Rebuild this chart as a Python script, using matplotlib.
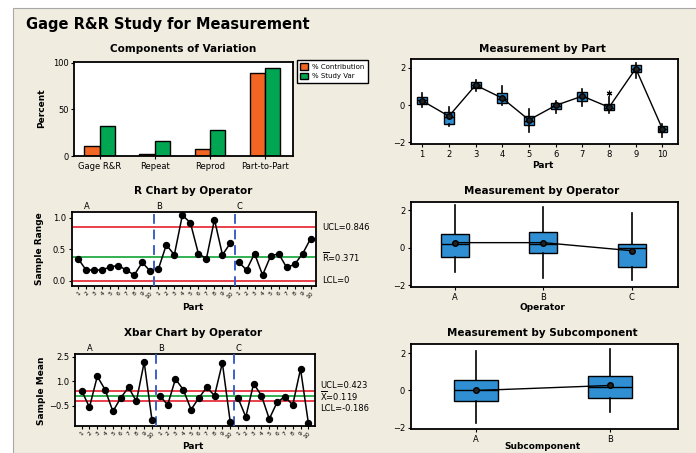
import numpy as np
import matplotlib
matplotlib.use('Agg')
import matplotlib.pyplot as plt
import matplotlib.transforms as mtransforms
from matplotlib.patches import Rectangle

# --- data ---
components = ['Gage R&R', 'Repeat', 'Reprod', 'Part-to-Part']
pct_contribution = [10.3, 2.6, 7.7, 89.7]
pct_study_var = [32.1, 16.1, 27.7, 94.7]

parts = np.arange(1, 11)
part_mean = [0.23, -0.60, 1.07, 0.37, -0.80, -0.02, 0.48, -0.12, 1.96, -1.29]
part_med = [0.25, -0.65, 1.05, 0.35, -0.85, -0.03, 0.45, -0.15, 1.95, -1.30]
part_q1 = [0.05, -1.02, 0.90, 0.12, -1.07, -0.20, 0.23, -0.29, 1.79, -1.45]
part_q3 = [0.45, -0.36, 1.25, 0.62, -0.59, 0.12, 0.68, 0.05, 2.14, -1.12]
part_lo = [-0.12, -1.10, 0.77, -0.02, -1.43, -0.45, -0.04, -0.45, 1.46, -1.73]
part_hi = [0.62, -0.12, 1.37, 1.02, -0.23, 0.23, 0.84, 0.45, 2.23, -1.02]
part_outliers = [[], [], [], [], [], [], [], [0.66], [], []]

operators = ['A', 'B', 'C']
op_mean = [0.28, 0.28, -0.15]
op_med = [0.19, 0.19, -0.03]
op_q1 = [-0.51, -0.29, -1.04]
op_q3 = [0.72, 0.83, 0.19]
op_lo = [-1.28, -1.60, -1.72]
op_hi = [2.28, 2.20, 1.88]

subcomponents = ['A', 'B']
sub_mean = [0.0, 0.27]
sub_med = [0.0, 0.20]
sub_q1 = [-0.57, -0.39]
sub_q3 = [0.59, 0.77]
sub_lo = [-1.73, -1.14]
sub_hi = [2.12, 2.25]

range_A = [0.35, 0.17, 0.17, 0.17, 0.22, 0.24, 0.17, 0.09, 0.29, 0.15]
range_B = [0.18, 0.57, 0.41, 1.04, 0.92, 0.43, 0.35, 0.97, 0.41, 0.60]
range_C = [0.30, 0.17, 0.43, 0.09, 0.39, 0.43, 0.21, 0.26, 0.43, 0.67]
r_ucl, r_bar, r_lcl = 0.846, 0.371, 0.0

mean_A = [0.43, -0.58, 1.30, 0.49, -0.83, -0.01, 0.63, -0.22, 2.16, -1.37]
mean_B = [0.13, -0.44, 1.14, 0.49, -0.72, -0.01, 0.63, 0.13, 2.12, -1.45]
mean_C = [-0.01, -1.17, 0.86, 0.13, -1.29, -0.28, 0.07, -0.44, 1.75, -1.54]
x_ucl, x_bar, x_lcl = 0.423, 0.119, -0.186

# --- layout helpers (pixel based) ---
W, H = 696, 453
BEIGE = '#f0ece0'
ORANGE = '#f26522'
GREEN = '#00a651'
BLUE = '#2f8fd2'
RED = '#e8323c'
CGREEN = '#22aa44'
DASH = '#3d5fc8'

fig = plt.figure(figsize=(W / 100, H / 100), dpi=100, facecolor='white')
fig.patches.append(Rectangle((13 / W, 0), 1, 1 - 8 / H, transform=fig.transFigure,
                             facecolor=BEIGE, edgecolor='#a8a8a8', lw=0.8, zorder=-1))


def px_axes(l, t, r, b):
    ax = fig.add_axes([l / W, 1 - b / H, (r - l) / W, (b - t) / H])
    ax.set_facecolor('white')
    for s in ax.spines.values():
        s.set_linewidth(1.3)
    ax.tick_params(labelsize=6, length=2.5, width=0.8, pad=1.5)
    return ax


def ftext(x, y, s, **kw):
    kw.setdefault('ha', 'center')
    kw.setdefault('va', 'center')
    fig.text(x / W, 1 - y / H, s, **kw)


def box_chart(ax, pos, q1, med, q3, lo, hi, mean, width, fliers=None):
    if fliers is None:
        fliers = [[] for _ in pos]
    stats = [dict(q1=a, med=m, q3=b, whislo=l, whishi=h, fliers=f)
             for a, m, b, l, h, f in zip(q1, med, q3, lo, hi, fliers)]
    ax.bxp(stats, positions=pos, widths=width, patch_artist=True,
           showcaps=False, showfliers=True,
           boxprops=dict(facecolor=BLUE, edgecolor='black', linewidth=1),
           medianprops=dict(color='black', linewidth=1),
           whiskerprops=dict(color='black', linewidth=1.2),
           flierprops=dict(marker=(6, 2, 0), markeredgecolor='black',
                           markersize=4, markeredgewidth=0.8))
    ax.plot(pos, mean, '-', color='black', lw=1, marker='o', ms=4,
            mfc='#222222', mec='black', zorder=5)


# --- title ---
ftext(26, 25, 'Gage R&R Study for Measurement', ha='left', fontsize=10.5,
      fontweight='bold')

# --- components of variation ---
ax = px_axes(74, 62, 293, 156)
x = np.arange(len(components))
w = 0.28
ax.bar(x - w / 2, pct_contribution, w, color=ORANGE, edgecolor='black', lw=1,
       label='% Contribution')
ax.bar(x + w / 2, pct_study_var, w, color=GREEN, edgecolor='black', lw=1,
       label='% Study Var')
ax.set_xticks(x, components)
ax.set_xlim(-0.47, 3.51)
ax.set_ylim(0, 101)
ax.set_yticks([0, 50, 100])
ax.legend(loc='upper left', bbox_to_anchor=(297 / W, 1 - 60 / H),
          bbox_transform=fig.transFigure, fontsize=5, fancybox=False,
          edgecolor='black', framealpha=1, handlelength=1.1, handleheight=1.1,
          borderpad=0.5, labelspacing=0.35, handletextpad=0.6, borderaxespad=0)
ftext(183.5, 49.3, 'Components of Variation', fontsize=7.5, fontweight='bold')
ftext(41.7, 108, 'Percent', rotation=90, fontsize=6.5, fontweight='bold')

# --- measurement by part ---
ax = px_axes(410.7, 59, 677.7, 144)
box_chart(ax, parts, part_q1, part_med, part_q3, part_lo, part_hi, part_mean,
          0.37, part_outliers)
ax.set_xticks(parts, [str(p) for p in parts])
ax.set_xlim(0.57, 10.57)
ax.set_ylim(-2.09, 2.47)
ax.set_yticks([-2, 0, 2])
ftext(542.7, 49.3, 'Measurement by Part', fontsize=7.5, fontweight='bold')
ftext(542.7, 165.7, 'Part', fontsize=6.5, fontweight='bold')


# --- R chart and Xbar chart by operator ---
def control_chart(ax, series, ucl, cl, lcl):
    n = len(series[0])
    for i, s in enumerate(series):
        xs = np.arange(1, n + 1) + i * n
        ax.plot(xs, s, '-', color='black', lw=1.1, marker='o', ms=4.3, zorder=4)
    for v, c in [(ucl, RED), (cl, CGREEN), (lcl, RED)]:
        ax.axhline(v, color=c, lw=1.3, zorder=2)
    for i in range(1, len(series)):
        ax.axvline(i * n + 0.5, color=DASH, lw=1.4, dashes=(5, 3), zorder=3)
    tr = mtransforms.blended_transform_factory(ax.transData, ax.transAxes)
    for i, op in enumerate(operators):
        ax.text(i * n + (2.1 if i == 0 else 1.1), 1.02, op, transform=tr,
                fontsize=6, ha='center', va='bottom')
    ticks = np.arange(1, n * len(series) + 1)
    ax.set_xticks(ticks, [str(t) for t in list(range(1, n + 1)) * len(series)],
                  rotation=45, ha='right', rotation_mode='anchor', fontsize=4.3)
    ax.tick_params(axis='x', length=2.5, pad=1)


ax = px_axes(71.5, 212.3, 316, 286)
control_chart(ax, [range_A, range_B, range_C], r_ucl, r_bar, r_lcl)
ax.set_xlim(0.18, 30.66)
ax.set_ylim(-0.084, 1.086)
ax.set_yticks([0.0, 0.5, 1.0], ['0.0', '0.5', '1.0'])
trR = mtransforms.blended_transform_factory(ax.transAxes, ax.transData)
ax.text(1.025, r_ucl, 'UCL=%.3f' % r_ucl, transform=trR, fontsize=6, va='center')
ax.text(1.025, r_bar, r'$\overline{\mathrm{R}}$=%.3f' % r_bar, transform=trR,
        fontsize=6, va='center')
ax.text(1.025, r_lcl, 'LCL=0', transform=trR, fontsize=6, va='center')
ftext(193.3, 190.7, 'R Chart by Operator', fontsize=7.5, fontweight='bold')
ftext(40, 249, 'Sample Range', rotation=90, fontsize=6.5, fontweight='bold')
ftext(193.3, 307.7, 'Part', fontsize=6.5, fontweight='bold')

ax = px_axes(75, 354, 315, 426)
control_chart(ax, [mean_A, mean_B, mean_C], x_ucl, x_bar, x_lcl)
ax.set_xlim(0.15, 30.85)
ax.set_ylim(-1.72, 2.66)
ax.set_yticks([-0.5, 1.0, 2.5])
trX = mtransforms.blended_transform_factory(ax.transAxes, ax.transData)
ax.annotate('UCL=%.3f' % x_ucl, xy=(1, x_ucl), xycoords=trX,
            xytext=(5, 5), textcoords='offset pixels', fontsize=6, va='center')
ax.annotate(r'$\overline{\mathrm{X}}$=%.3f' % x_bar, xy=(1, x_bar), xycoords=trX,
            xytext=(5, 0), textcoords='offset pixels', fontsize=6, va='center')
ax.annotate('LCL=%.3f' % x_lcl, xy=(1, x_lcl), xycoords=trX,
            xytext=(5, -8), textcoords='offset pixels', fontsize=6, va='center')
ftext(193.3, 333.3, 'Xbar Chart by Operator', fontsize=7.5, fontweight='bold')
ftext(41.7, 391, 'Sample Mean', rotation=90, fontsize=6.5, fontweight='bold')
ftext(193.3, 446.5, 'Part', fontsize=6.5, fontweight='bold')

# --- measurement by operator ---
ax = px_axes(410.7, 202.3, 677.7, 287.3)
pos = np.arange(1, len(operators) + 1)
box_chart(ax, pos, op_q1, op_med, op_q3, op_lo, op_hi, op_mean, 0.32)
ax.set_xticks(pos, operators)
ax.set_xlim(0.5, 3.52)
ax.set_ylim(-2.1, 2.43)
ax.set_yticks([-2, 0, 2])
ftext(542, 190.7, 'Measurement by Operator', fontsize=7.5, fontweight='bold')
ftext(542.7, 307.7, 'Operator', fontsize=6.5, fontweight='bold')

# --- measurement by subcomponent ---
ax = px_axes(410.7, 344, 677.7, 429)
pos = np.arange(1, len(subcomponents) + 1)
box_chart(ax, pos, sub_q1, sub_med, sub_q3, sub_lo, sub_hi, sub_mean, 0.33)
ax.set_xticks(pos, subcomponents)
ax.set_xlim(0.51, 2.51)
ax.set_ylim(-2.07, 2.5)
ax.set_yticks([-2, 0, 2])
ftext(542.3, 333.3, 'Measurement by Subcomponent', fontsize=7.5, fontweight='bold')
ftext(542.7, 446.5, 'Subcomponent', fontsize=6.5, fontweight='bold')

fig.savefig('out.png', dpi=100, facecolor=fig.get_facecolor())
